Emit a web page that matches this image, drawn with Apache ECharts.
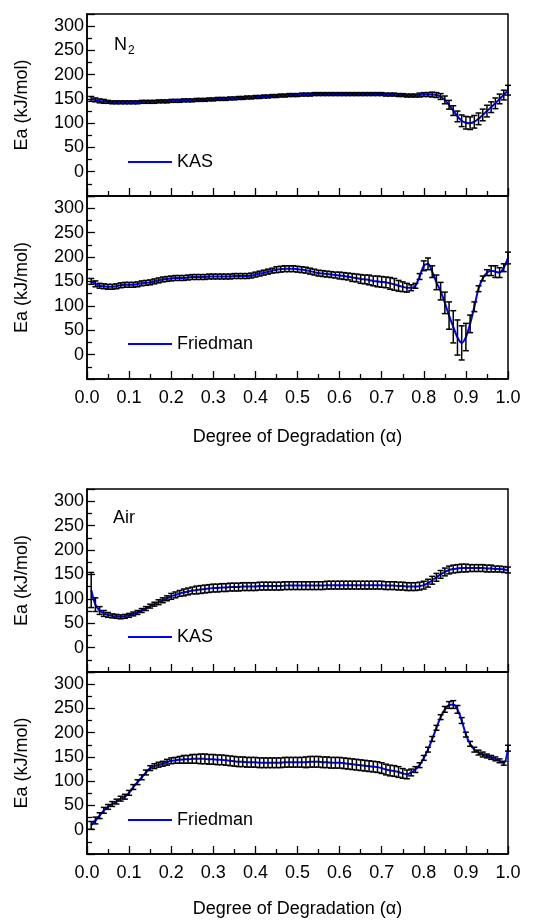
<!DOCTYPE html>
<html>
<head>
<meta charset="utf-8">
<script src="https://cdn.jsdelivr.net/npm/echarts@6/dist/echarts.min.js"></script>
<style>
	html, body { margin: 0; padding: 0; background: #fff; }
	#main { width: 543px; height: 921px; }
</style>
</head>
<body>
<div id="main"></div>
<script>
// degree of degradation (alpha)
var alpha = [
	0.01,0.02,0.03,0.04,0.05,0.06,0.07,0.08,0.09,0.10,
	0.11,0.12,0.13,0.14,0.15,0.16,0.17,0.18,0.19,0.20,
	0.21,0.22,0.23,0.24,0.25,0.26,0.27,0.28,0.29,0.30,
	0.31,0.32,0.33,0.34,0.35,0.36,0.37,0.38,0.39,0.40,
	0.41,0.42,0.43,0.44,0.45,0.46,0.47,0.48,0.49,0.50,
	0.51,0.52,0.53,0.54,0.55,0.56,0.57,0.58,0.59,0.60,
	0.61,0.62,0.63,0.64,0.65,0.66,0.67,0.68,0.69,0.70,
	0.71,0.72,0.73,0.74,0.75,0.76,0.77,0.78,0.79,0.80,
	0.81,0.82,0.83,0.84,0.85,0.86,0.87,0.88,0.89,0.90,
	0.91,0.92,0.93,0.94,0.95,0.96,0.97,0.98,0.99,1.00
];

// N2 - KAS
var n2Kas = [
	150,148,146,145,144,143,143,143,143,143,
	143,143,144,144,144,144,145,145,145,146,
	146,146,147,147,147,148,148,148,149,149,
	150,150,150,151,151,152,152,153,153,154,
	154,155,155,156,156,157,157,158,158,158,
	159,159,159,160,160,160,160,160,160,160,
	160,160,160,160,160,160,160,160,160,160,
	159,159,159,158,158,157,157,157,158,159,
	159,159,158,155,148,138,126,114,105,101,
	100,103,109,117,125,133,141,150,158,168
];
var n2KasErr = [
	5,4,4,4,3,3,3,3,3,3,
	3,3,3,3,3,3,3,3,3,3,
	3,3,3,3,3,3,3,3,3,3,
	3,3,3,3,3,3,3,3,3,3,
	3,3,3,3,3,3,3,3,3,3,
	3,3,3,3,3,3,3,3,3,3,
	3,3,3,3,3,3,3,3,3,3,
	3,3,3,3,3,3,3,3,4,4,
	4,5,5,6,8,9,10,11,12,13,
	13,13,12,12,12,11,11,10,10,10
];

// N2 - Friedman
var n2Fr = [
	150,145,141,140,139,139,140,142,143,143,
	143,144,146,147,148,150,152,154,155,156,
	157,157,157,158,159,159,159,159,160,160,
	160,160,160,160,161,161,161,161,162,164,
	166,168,170,172,174,175,176,176,176,175,
	174,173,171,169,167,166,165,164,163,162,
	161,160,158,157,155,154,153,151,150,149,
	148,146,144,141,139,137,137,141,160,182,
	186,170,148,130,106,80,57,35,24,36,
	63,98,135,156,168,172,170,168,178,198
];
var n2FrErr = [
	6,6,5,5,5,5,5,5,5,5,
	5,5,5,5,5,5,5,5,5,5,
	5,5,5,5,5,5,5,5,5,5,
	5,5,5,5,5,5,5,5,5,5,
	5,5,5,5,6,6,6,6,6,6,
	6,6,6,6,6,6,6,6,6,7,
	7,7,8,8,9,9,10,10,11,11,
	11,12,12,11,10,9,6,5,6,10,
	12,12,15,18,22,28,33,36,35,28,
	18,10,6,5,6,10,12,10,8,12
];

// Air - KAS
var airKas = [
	118,88,76,70,67,65,64,63,64,66,
	69,72,76,80,85,89,93,97,101,105,
	108,111,113,115,117,118,119,120,121,122,
	122,123,123,124,124,124,125,125,125,125,
	126,126,126,126,126,126,127,127,127,127,
	127,127,127,127,127,127,128,128,128,128,
	128,128,128,128,128,128,128,128,128,128,
	127,127,127,126,126,125,125,125,126,128,
	132,138,144,150,155,159,161,162,163,163,
	163,163,163,163,162,162,161,161,160,159
];
var airKasErr = [
	36,14,8,6,5,4,4,4,4,4,
	4,4,4,4,4,4,5,5,5,6,
	6,6,7,7,7,8,8,8,8,8,
	8,8,8,8,8,8,8,8,8,8,
	8,8,8,8,8,8,8,8,8,8,
	8,8,8,8,8,8,8,8,8,8,
	8,8,8,8,8,8,8,8,8,8,
	8,8,8,8,8,8,8,8,8,8,
	8,8,8,8,8,8,8,8,8,8,
	7,7,7,7,7,7,6,6,6,6
];

// Air - Friedman
var airFr = [
	9,19,29,40,47,53,58,64,68,76,
	88,98,108,118,127,131,134,136,139,142,
	143,144,145,145,146,146,146,146,145,145,
	144,144,143,142,141,140,140,139,139,139,
	138,138,138,138,138,138,139,139,139,139,
	139,139,140,140,140,139,139,138,138,138,
	137,136,135,134,133,132,131,130,129,127,
	124,122,121,119,116,114,118,124,133,148,
	165,187,210,232,248,257,258,248,225,196,
	177,165,159,155,152,149,146,142,137,168
];
var airFrErr = [
	8,7,6,6,5,5,5,5,5,5,
	5,5,5,5,5,5,5,5,6,6,
	6,7,8,8,9,9,10,10,10,10,
	10,10,10,10,10,10,10,10,10,10,
	10,10,10,10,10,10,10,10,10,10,
	10,11,11,11,11,11,11,11,11,11,
	11,11,11,11,11,11,11,11,11,11,
	11,11,11,11,10,9,7,6,5,5,
	5,5,5,5,6,7,8,8,6,5,
	5,5,5,5,4,4,4,4,4,6
];

var yTicks = [0, 50, 100, 150, 200, 250, 300];
var xTitle = 'Degree of Degradation (\u03b1)';
var yTitle = 'Ea (kJ/mol)';

var FONT = 'Liberation Sans, Arial, sans-serif';
var FS = 18;

var myChart = echarts.init(document.getElementById('main'));

var panels = [
	{ top: 14, height: 182, values: n2Kas, errs: n2KasErr, name: 'KAS', showX: false },
	{ top: 196, height: 183, values: n2Fr, errs: n2FrErr, name: 'Friedman', showX: true },
	{ top: 489, height: 183, values: airKas, errs: airKasErr, name: 'KAS', showX: false },
	{ top: 672, height: 182, values: airFr, errs: airFrErr, name: 'Friedman', showX: true }
];

function errRender(params, api) {
	var x = api.value(0);
	var lo = api.coord([x, api.value(1)]);
	var hi = api.coord([x, api.value(2)]);
	var w = 3;
	var st = { stroke: '#000', lineWidth: 1.5 };
	return {
		type: 'group',
		children: [
			{ type: 'line', shape: { x1: lo[0], y1: lo[1], x2: hi[0], y2: hi[1] }, style: st },
			{ type: 'line', shape: { x1: lo[0] - w, y1: lo[1], x2: lo[0] + w, y2: lo[1] }, style: st },
			{ type: 'line', shape: { x1: hi[0] - w, y1: hi[1], x2: hi[0] + w, y2: hi[1] }, style: st }
		]
	};
}

var option = {
	backgroundColor: '#fff',
	animation: false,
	textStyle: { fontFamily: FONT },
	grid: [],
	xAxis: [],
	yAxis: [],
	legend: [],
	series: [],
	graphic: [
		{ type: 'text', x: 114, y: 45, style: { text: 'N', font: FS + 'px ' + FONT, fill: '#000', verticalAlign: 'middle' } },
		{ type: 'text', x: 128, y: 51, style: { text: '2', font: '12px ' + FONT, fill: '#000', verticalAlign: 'middle' } },
		{ type: 'text', x: 113, y: 518, style: { text: 'Air', font: FS + 'px ' + FONT, fill: '#000', verticalAlign: 'middle' } }
	]
};

panels.forEach(function(p, i) {
	option.grid.push({
		left: 87, right: 35, top: p.top, height: p.height,
		show: true, borderColor: '#000', borderWidth: 1.5, backgroundColor: 'transparent'
	});

	option.xAxis.push({
		type: 'value', gridIndex: i, min: 0, max: 1, interval: 0.1,
		name: p.showX ? xTitle : '',
		nameLocation: 'middle', nameGap: i == 1 ? 49 : 46,
		nameTextStyle: { fontSize: FS, color: '#000', fontFamily: FONT },
		axisLine: { show: true, onZero: false, lineStyle: { color: '#000', width: 1.5 } },
		axisTick: { show: true, inside: true, length: 8, lineStyle: { color: '#000', width: 1.3 } },
		minorTick: { show: true, splitNumber: 2, length: 5, lineStyle: { color: '#000', width: 1.3 } },
		splitLine: { show: false },
		axisLabel: {
			show: p.showX, margin: 10, fontSize: FS, color: '#000', fontFamily: FONT,
			formatter: function(v) { return v.toFixed(1); }
		}
	});

	option.yAxis.push({
		type: 'value', gridIndex: i, min: -50, max: 325, interval: 50,
		name: yTitle, nameLocation: 'middle', nameGap: 56, nameRotate: 90,
		nameTextStyle: { fontSize: FS, color: '#000', fontFamily: FONT },
		axisLine: { show: true, lineStyle: { color: '#000', width: 1.5 } },
		axisTick: { show: true, inside: true, length: 8, lineStyle: { color: '#000', width: 1.3 } },
		minorTick: { show: true, splitNumber: 2, length: 5, lineStyle: { color: '#000', width: 1.3 } },
		splitLine: { show: false },
		axisLabel: {
			margin: 3, fontSize: FS, color: '#000', fontFamily: FONT,
			formatter: function(v) { return yTicks.indexOf(v) >= 0 ? String(v) : ''; }
		}
	});

	var lineData = [];
	var errData = [];
	alpha.forEach(function(a, k) {
		lineData.push([a, p.values[k]]);
		errData.push([a, p.values[k] - p.errs[k], p.values[k] + p.errs[k]]);
	});

	option.series.push({
		name: p.name, type: 'line', xAxisIndex: i, yAxisIndex: i,
		data: lineData, smooth: 0.3, showSymbol: false, symbol: 'none',
		lineStyle: { color: '#0000ff', width: 2 }, itemStyle: { color: '#0000ff' }, z: 2
	});
	option.series.push({
		name: 'err' + i, type: 'custom', xAxisIndex: i, yAxisIndex: i,
		data: errData, renderItem: errRender, encode: { x: 0, y: [1, 2] }, z: 3, silent: true
	});

	option.legend.push({
		data: [p.name], left: 128, top: p.top + 137, padding: 0,
		icon: 'rect', itemWidth: 44, itemHeight: 2, itemGap: 5,
		textStyle: { fontSize: FS, color: '#000', fontFamily: FONT, lineHeight: 22 },
		selectedMode: false
	});
});

myChart.setOption(option);
</script>
</body>
</html>
